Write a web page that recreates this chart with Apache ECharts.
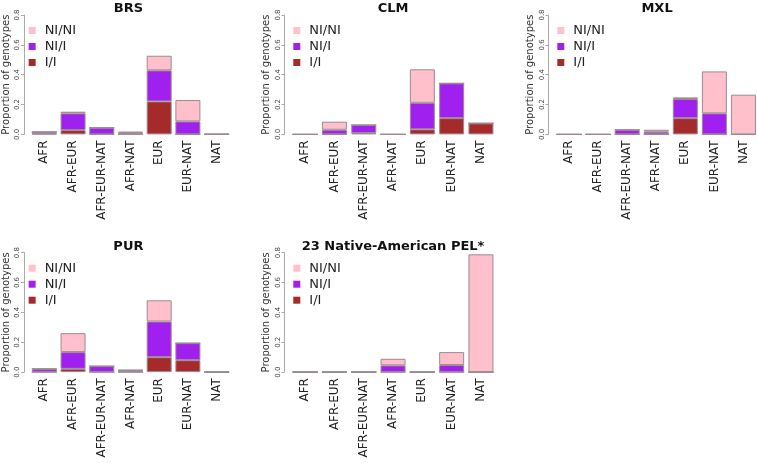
<!DOCTYPE html>
<html>
<head>
<meta charset="utf-8">
<script src="https://cdn.jsdelivr.net/npm/echarts@6/dist/echarts.min.js"></script>
<style>html,body{margin:0;padding:0;background:#fff}#c{width:758px;height:463px}</style>
</head>
<body>
<div id="c"></div>
<script>
var categories = ['AFR','AFR-EUR','AFR-EUR-NAT','AFR-NAT','EUR','EUR-NAT','NAT'];
var panelTitles = ['BRS','CLM','MXL','PUR','23 Native-American PEL*'];
var yTicks = [0, 0.2, 0.4, 0.6, 0.8];

var BRS_II   = [0.004, 0.029, 0.000, 0.002, 0.221, 0.000, 0.000];
var BRS_NII  = [0.013, 0.112, 0.045, 0.009, 0.208, 0.087, 0.000];
var BRS_NINI = [0.000, 0.011, 0.000, 0.007, 0.098, 0.143, 0.004];

var CLM_II   = [0.000, 0.000, 0.009, 0.000, 0.034, 0.109, 0.074];
var CLM_NII  = [0.000, 0.031, 0.054, 0.000, 0.178, 0.233, 0.000];
var CLM_NINI = [0.000, 0.054, 0.000, 0.000, 0.224, 0.000, 0.000];

var MXL_II   = [0.000, 0.000, 0.000, 0.000, 0.109, 0.000, 0.000];
var MXL_NII  = [0.000, 0.000, 0.031, 0.018, 0.128, 0.141, 0.000];
var MXL_NINI = [0.000, 0.000, 0.000, 0.013, 0.011, 0.281, 0.266];

var PUR_II   = [0.000, 0.022, 0.000, 0.000, 0.100, 0.080, 0.000];
var PUR_NII  = [0.022, 0.112, 0.040, 0.013, 0.239, 0.114, 0.000];
var PUR_NINI = [0.000, 0.127, 0.000, 0.000, 0.142, 0.000, 0.000];

var PEL_II   = [0.000, 0.000, 0.000, 0.000, 0.000, 0.000, 0.000];
var PEL_NII  = [0.000, 0.000, 0.000, 0.045, 0.000, 0.047, 0.000];
var PEL_NINI = [0.000, 0.000, 0.000, 0.044, 0.000, 0.087, 0.789];

var panelData = [
  [BRS_II, BRS_NII, BRS_NINI],
  [CLM_II, CLM_NII, CLM_NINI],
  [MXL_II, MXL_NII, MXL_NINI],
  [PUR_II, PUR_NII, PUR_NINI],
  [PEL_II, PEL_NII, PEL_NINI]
];
var seriesNames = ['I/I', 'NI/I', 'NI/NI'];
var seriesColors = ['#A52A2A', '#A020F0', '#FFC0CB'];

var FONT = 'DejaVu Sans';
var gridLefts = [25.85, 290.5, 554.5, 25.85, 290.5];
var gridTops = [15, 15, 15, 252.7, 252.7];
var GW = 205.1, GH = 119.4;

var grids = [], xAxes = [], yAxes = [], series = [], titles = [], legends = [];
for (var p = 0; p < 5; p++) {
  grids.push({left: gridLefts[p], top: gridTops[p], width: GW, height: GH, containLabel: false});
  xAxes.push({
    type: 'category', gridIndex: p, data: categories,
    axisLine: {show: false}, axisTick: {show: false},
    axisLabel: {rotate: 90, interval: 0, fontSize: 12, color: '#222', margin: 6, fontFamily: FONT}
  });
  yAxes.push({
    type: 'value', gridIndex: p, min: 0, max: 0.8, interval: 0.2, offset: 6,
    axisLine: {show: true, lineStyle: {color: '#aaa', width: 1}},
    axisTick: {show: true, length: 3, lineStyle: {color: '#aaa'}},
    splitLine: {show: false},
    axisLabel: {rotate: 90, fontSize: 7, color: '#444', margin: 3, fontFamily: FONT,
      formatter: function (v) { return v.toFixed(1); }},
    name: 'Proportion of genotypes', nameLocation: 'middle', nameGap: 13,
    nameTextStyle: {fontSize: 10, color: '#333', fontFamily: FONT}
  });
  for (var s = 0; s < 3; s++) {
    series.push({
      type: 'bar', name: seriesNames[s], xAxisIndex: p, yAxisIndex: p,
      stack: 'panel' + p, barWidth: 25, data: panelData[p][s],
      itemStyle: {color: seriesColors[s], borderColor: '#9c8a92', borderWidth: 1},
      emphasis: {disabled: true}, animation: false
    });
  }
  titles.push({
    text: panelTitles[p], left: gridLefts[p] + GW / 2, top: gridTops[p] - 13,
    textAlign: 'center', padding: 0,
    textStyle: {fontSize: 13, fontWeight: 'bold', color: '#111', fontFamily: FONT}
  });
  legends.push({
    data: ['NI/NI', 'NI/I', 'I/I'], orient: 'vertical',
    left: gridLefts[p] + 2.8, top: gridTops[p] + 9, padding: 0,
    icon: 'rect', itemWidth: 7, itemHeight: 7, itemGap: 3,
    selectedMode: false,
    itemStyle: {borderWidth: 0},
    textStyle: {fontSize: 13, color: '#222', fontFamily: FONT, lineHeight: 13, padding: [0, 0, 0, 4]}
  });
}

var chart = echarts.init(document.getElementById('c'), null, {renderer: 'canvas'});
chart.setOption({
  animation: false,
  backgroundColor: '#fff',
  title: titles, legend: legends,
  grid: grids, xAxis: xAxes, yAxis: yAxes, series: series
});
</script>
</body>
</html>
